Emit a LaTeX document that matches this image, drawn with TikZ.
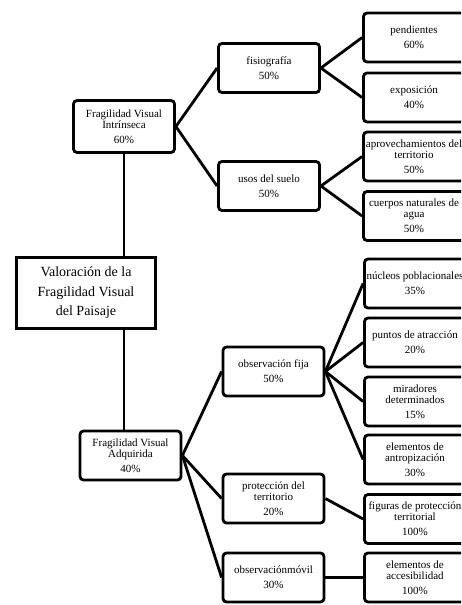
\documentclass[tikz,border=0pt]{standalone}
\usepackage{fontspec}
\setmainfont{Liberation Serif}

\tikzset{
  caja/.style={draw, line width=2.8pt, rounded corners=3.5pt, minimum width=101pt, minimum height=49pt, inner sep=1pt, align=center, font=\fontsize{11}{11}\selectfont},
  raiz/.style={draw, line width=2.8pt, minimum width=139pt, minimum height=71pt, align=center, font=\fontsize{14}{19.5}\selectfont},
  rama/.style={line width=2.8pt}
}

\begin{document}
\begin{tikzpicture}[x=1pt, y=-1pt]
        \useasboundingbox (0,0) rectangle (461,605);
        \clip (0,0) rectangle (461,605);

        % nodo raiz
        \node[raiz] (val) at (86,293) {Valoración de la\\Fragilidad Visual\\del Paisaje};

        % fragilidad visual intrinseca
        \node[caja, minimum height=52pt] (intr) at (124,126.5) {Fragilidad Visual\\Intrínseca\\[4pt]60\%};
        \node[caja] (fis) at (269,68) {fisiografía\\[4pt]50\%};
        \node[caja] (usos) at (269,186) {usos del suelo\\[4pt]50\%};
        \node[caja] (pend) at (414,37.5) {pendientes\\[4pt]60\%};
        \node[caja] (expo) at (414,97.5) {exposición\\[4pt]40\%};
        \node[caja] (aprov) at (414,156.5) {aprovechamientos del\\territorio\\[4pt]50\%};
        \node[caja] (cuerp) at (414,216) {cuerpos naturales de\\agua\\[4pt]50\%};

        % fragilidad visual adquirida
        \node[caja] (adq) at (130.5,455.5) {Fragilidad Visual\\Adquirida\\[4pt]40\%};
        \node[caja] (obsf) at (273.5,371.5) {observación fija\\[4pt]50\%};
        \node[caja] (prot) at (273.5,498.5) {protección del\\territorio\\[4pt]20\%};
        \node[caja] (obsm) at (273.5,577.5) {observaciónmóvil\\[4pt]30\%};
        \node[caja] (nuc) at (415,283.5) {núcleos poblacionales\\[4pt]35\%};
        \node[caja] (punt) at (415,342.5) {puntos de atracción\\[4pt]20\%};
        \node[caja] (mir) at (415,401.5) {miradores\\determinados\\[4pt]15\%};
        \node[caja] (antr) at (415,459.5) {elementos de\\antropización\\[4pt]30\%};
        \node[caja] (fig) at (415,519) {figuras de protección\\territorial\\[4pt]100\%};
        \node[caja] (acc) at (415,577.5) {elementos de\\accesibilidad\\[4pt]100\%};

        % tronco vertical
        \draw[rama] (intr.south) -- (intr.south |- val.north);
        \draw[rama] (intr.south |- val.south) -- (intr.south |- adq.north);

        % ramas
        \foreach \hijo in {fis,usos}
            \draw[rama] (intr.east) -- (\hijo.west);
        \foreach \hoja in {pend,expo}
            \draw[rama] (fis.east) -- (\hoja.west);
        \foreach \hoja in {aprov,cuerp}
            \draw[rama] (usos.east) -- (\hoja.west);
        \foreach \hijo in {obsf,prot,obsm}
            \draw[rama] (adq.east) -- (\hijo.west);
        \foreach \hoja in {nuc,punt,mir,antr}
            \draw[rama] (obsf.east) -- (\hoja.west);
        \draw[rama] (prot.east) -- (fig.west);
        \draw[rama] (obsm.east) -- (acc.west);

    \end{tikzpicture}
\end{document}
